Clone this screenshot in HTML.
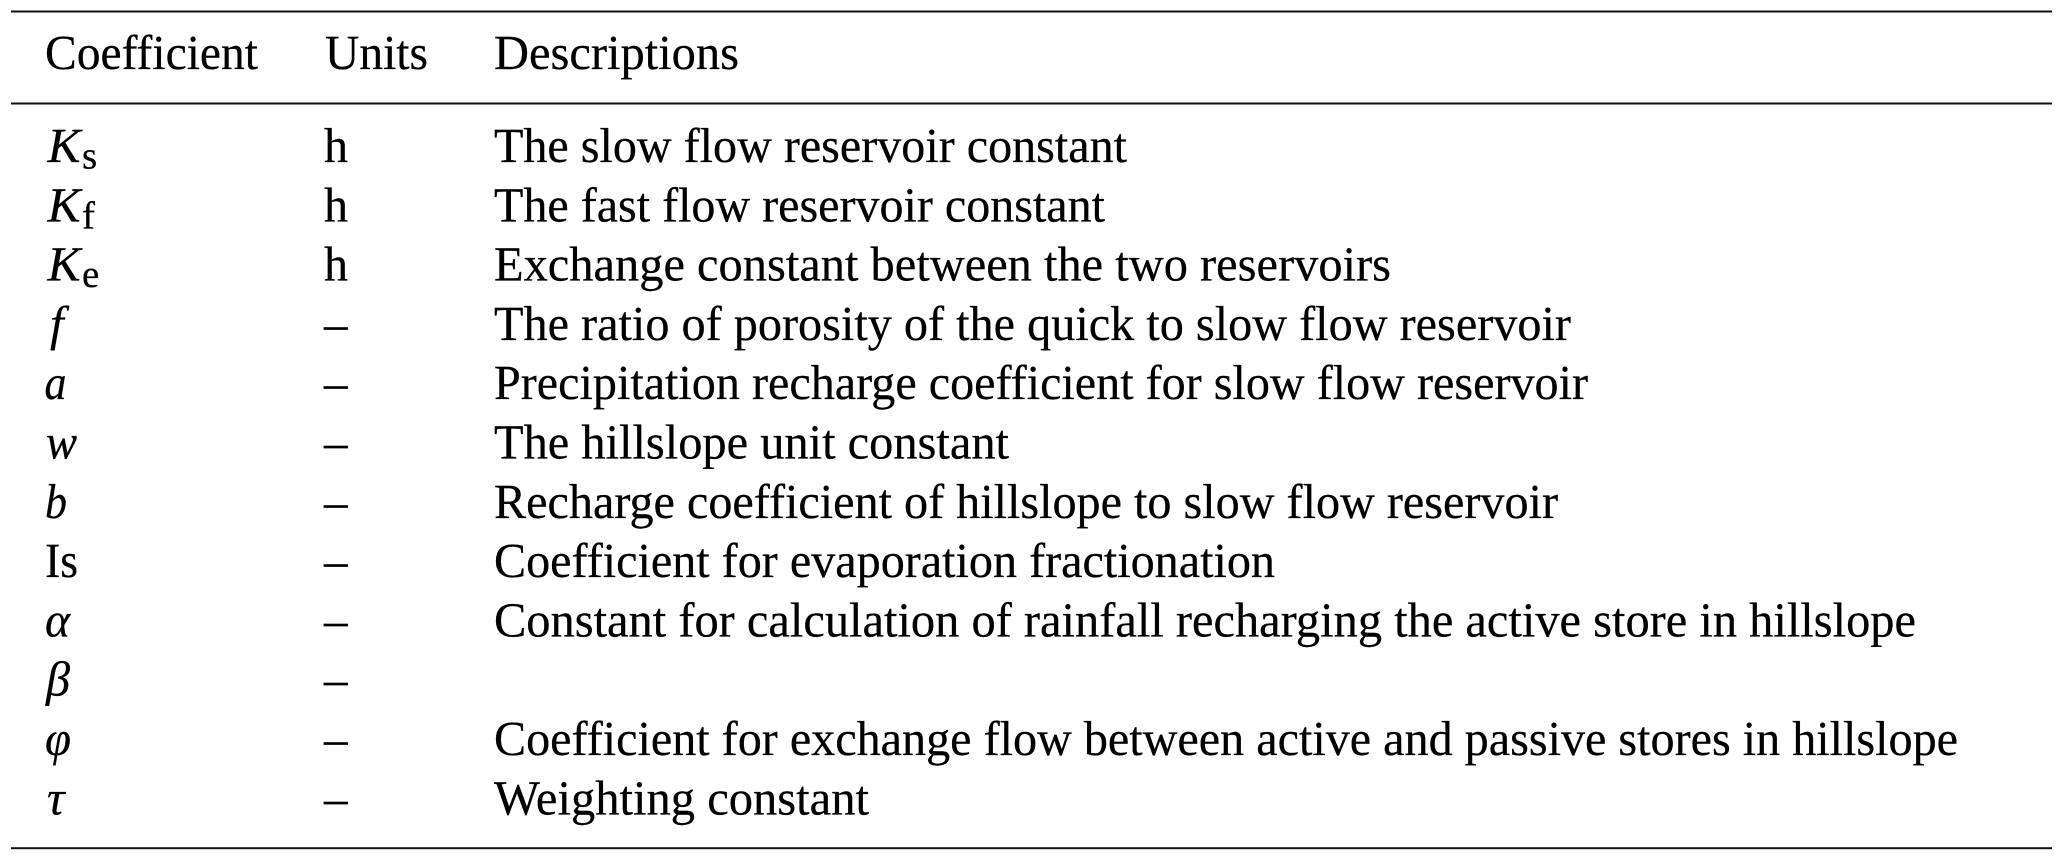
<!DOCTYPE html>
<html lang="en">
<head>
<meta charset="utf-8">
<title>Coefficient table</title>
<style>
html,body{margin:0;padding:0;background:#fff;width:2065px;height:857px;overflow:hidden}
svg{display:block}
text{font-family:"Liberation Serif","DejaVu Serif",serif;font-size:49px;fill:#000;stroke:#000;stroke-width:.25px;text-rendering:geometricPrecision}
.i{font-style:italic}
.s{font-size:39px}
</style>
</head>
<body>
<svg width="2065" height="857" viewBox="0 0 2065 857" xmlns="http://www.w3.org/2000/svg">
<rect width="2065" height="857" fill="#fff"/>
<rect x="11" y="10.5" width="2041" height="2" fill="#111"/>
<rect x="11" y="102.5" width="2041" height="2" fill="#111"/>
<rect x="11" y="847.2" width="2041" height="2" fill="#111"/>

<text x="45" y="69" textLength="213" lengthAdjust="spacingAndGlyphs">Coefficient</text>
<text x="325" y="69" textLength="103" lengthAdjust="spacingAndGlyphs">Units</text>
<text x="494" y="69" textLength="245" lengthAdjust="spacingAndGlyphs">Descriptions</text>

<text class="i" x="47.5" y="162" textLength="33" lengthAdjust="spacingAndGlyphs">K</text><text class="s" x="82" y="168.5">s</text>
<text class="i" x="47.5" y="221.3" textLength="33" lengthAdjust="spacingAndGlyphs">K</text><text class="s" x="82" y="228.3">f</text>
<text class="i" x="47.5" y="280.6" textLength="33" lengthAdjust="spacingAndGlyphs">K</text><text class="s" x="82" y="287.1">e</text>
<text class="i" x="50" y="339.9">f</text>
<text class="i" x="44.5" y="399.2" textLength="22" lengthAdjust="spacingAndGlyphs">a</text>
<text class="i" x="46" y="458.5" textLength="31" lengthAdjust="spacingAndGlyphs">w</text>
<text class="i" x="45" y="517.8" textLength="22" lengthAdjust="spacingAndGlyphs">b</text>
<text x="45" y="577" textLength="33" lengthAdjust="spacingAndGlyphs">Is</text>
<text class="i" x="45" y="636.4" textLength="25" lengthAdjust="spacingAndGlyphs">α</text>
<text class="i" x="46" y="695.7" textLength="24" lengthAdjust="spacingAndGlyphs">β</text>
<text class="i" x="45" y="755" textLength="26" lengthAdjust="spacingAndGlyphs">φ</text>
<text class="i" x="47" y="814.3">τ</text>

<text x="324" y="162" textLength="24" lengthAdjust="spacingAndGlyphs">h</text>
<text x="324" y="221.3" textLength="24" lengthAdjust="spacingAndGlyphs">h</text>
<text x="324" y="280.6" textLength="24" lengthAdjust="spacingAndGlyphs">h</text>
<text x="324" y="339.9" textLength="23.6" lengthAdjust="spacingAndGlyphs">–</text>
<text x="324" y="399.2" textLength="23.6" lengthAdjust="spacingAndGlyphs">–</text>
<text x="324" y="458.5" textLength="23.6" lengthAdjust="spacingAndGlyphs">–</text>
<text x="324" y="517.8" textLength="23.6" lengthAdjust="spacingAndGlyphs">–</text>
<text x="324" y="577" textLength="23.6" lengthAdjust="spacingAndGlyphs">–</text>
<text x="324" y="636.4" textLength="23.6" lengthAdjust="spacingAndGlyphs">–</text>
<text x="324" y="695.7" textLength="23.6" lengthAdjust="spacingAndGlyphs">–</text>
<text x="324" y="755" textLength="23.6" lengthAdjust="spacingAndGlyphs">–</text>
<text x="324" y="814.3" textLength="23.6" lengthAdjust="spacingAndGlyphs">–</text>

<text x="494" y="162" textLength="633" lengthAdjust="spacingAndGlyphs">The slow flow reservoir constant</text>
<text x="494" y="221.3" textLength="611" lengthAdjust="spacingAndGlyphs">The fast flow reservoir constant</text>
<text x="494" y="280.6" textLength="897" lengthAdjust="spacingAndGlyphs">Exchange constant between the two reservoirs</text>
<text x="494" y="339.9" textLength="1077" lengthAdjust="spacingAndGlyphs">The ratio of porosity of the quick to slow flow reservoir</text>
<text x="494" y="399.2" textLength="1094" lengthAdjust="spacingAndGlyphs">Precipitation recharge coefficient for slow flow reservoir</text>
<text x="494" y="458.5" textLength="515" lengthAdjust="spacingAndGlyphs">The hillslope unit constant</text>
<text x="494" y="517.8" textLength="1064" lengthAdjust="spacingAndGlyphs">Recharge coefficient of hillslope to slow flow reservoir</text>
<text x="494" y="577" textLength="781" lengthAdjust="spacingAndGlyphs">Coefficient for evaporation fractionation</text>
<text x="494" y="636.4" textLength="1422" lengthAdjust="spacingAndGlyphs">Constant for calculation of rainfall recharging the active store in hillslope</text>
<text x="494" y="755" textLength="1464" lengthAdjust="spacingAndGlyphs">Coefficient for exchange flow between active and passive stores in hillslope</text>
<text x="494" y="814.3" textLength="375" lengthAdjust="spacingAndGlyphs">Weighting constant</text>
</svg>
</body>
</html>
